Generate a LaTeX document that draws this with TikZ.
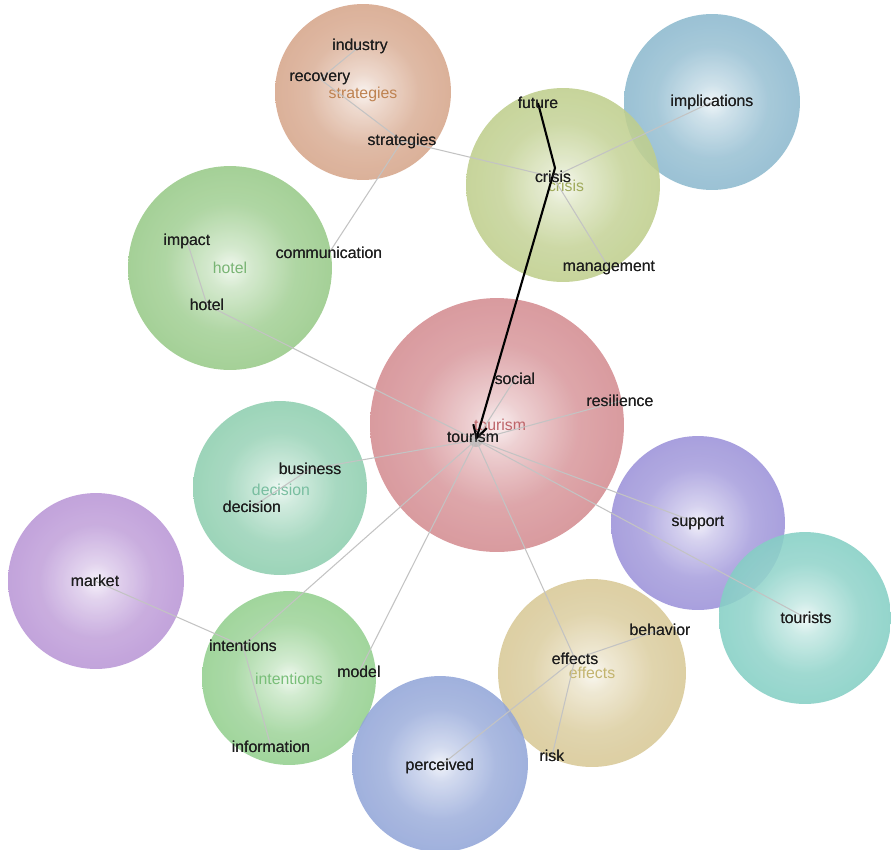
\documentclass[tikz,border=0pt]{standalone}
\usepackage{fontspec}
\setmainfont{Liberation Sans}
\usetikzlibrary{arrows.meta}
\pgfdeclareradialshading[bubblecolor]{bubble}{\pgfpoint{0bp}{0bp}}{color(0bp)=(bubblecolor!15!white); color(5bp)=(bubblecolor!45!white); color(16bp)=(bubblecolor!85!white); color(28bp)=(bubblecolor); color(50bp)=(bubblecolor)}
\definecolor{cStrat}{RGB}{212,162,134}
\definecolor{cCrisis}{RGB}{188,204,136}
\definecolor{cImpl}{RGB}{136,182,204}
\definecolor{cHotel}{RGB}{148,200,132}
\definecolor{cTour}{RGB}{210,136,141}
\definecolor{cDec}{RGB}{138,204,172}
\definecolor{cMarket}{RGB}{183,146,212}
\definecolor{cInt}{RGB}{143,205,138}
\definecolor{cSupp}{RGB}{152,142,215}
\definecolor{cTourists}{RGB}{128,205,194}
\definecolor{cEff}{RGB}{214,198,146}
\definecolor{cPerc}{RGB}{142,162,214}
\definecolor{lStrat}{RGB}{190,130,80}
\definecolor{lCrisis}{RGB}{160,170,90}
\definecolor{lHotel}{RGB}{120,180,115}
\definecolor{lTour}{RGB}{190,100,105}
\definecolor{lDec}{RGB}{120,190,160}
\definecolor{lInt}{RGB}{120,190,120}
\definecolor{lEff}{RGB}{195,180,110}
\definecolor{wordink}{RGB}{30,30,30}
\definecolor{edgegray}{RGB}{195,195,195}
\tikzset{
  bub/.style={circle, inner sep=0pt, minimum size=#1*0.04cm, fill opacity=0.88,
    /utils/exec={\colorlet{bubblecolor}{bcol}}, shading=bubble},
  word/.style={inner sep=1pt, text=wordink, font=\fontsize{9}{10}\selectfont},
  clab/.style={inner sep=1pt, text=#1, font=\fontsize{9}{10}\selectfont},
  link/.style={draw=edgegray, line width=0.6pt},
}
\newcommand{\bubble}[5]{\colorlet{bcol}{#4}\node[bub=#5] (#1) at (#2,#3) {};}
\begin{document}
\begin{tikzpicture}[x=0.02cm, y=-0.02cm]
\useasboundingbox (0,0) rectangle (891,849);
% bubbles
\bubble{b-strat}{363}{92}{cStrat}{88}
\bubble{b-impl}{712}{102}{cImpl}{88}
\bubble{b-crisis}{563}{185}{cCrisis}{97}
\bubble{b-hotel}{230}{268}{cHotel}{102}
\bubble{b-tour}{497}{425}{cTour}{127}
\bubble{b-dec}{280}{488}{cDec}{87}
\bubble{b-market}{96}{581}{cMarket}{88}
\bubble{b-int}{289}{678}{cInt}{87}
\bubble{b-supp}{698}{523}{cSupp}{87}
\bubble{b-tourists}{805}{618}{cTourists}{86}
\bubble{b-eff}{592}{673}{cEff}{94}
\bubble{b-perc}{440}{764}{cPerc}{88}
% words
\node[word] (industry) at (360,46) {industry};
\node[word] (recovery) at (320,79) {recovery};
\node[clab=lStrat] (l-strat) at (363,94) {strategies};
\node[word] (strategies) at (402,141) {strategies};
\node[word] (future) at (538,103) {future};
\node[clab=lCrisis] (l-crisis) at (566,186) {crisis};
\node[word] (crisis) at (553,177) {crisis};
\node[word] (management) at (609,268) {management};
\node[word] (implications) at (712,102) {implications};
\node[word] (impact) at (187,241) {impact};
\node[clab=lHotel] (l-hotel) at (230,268) {hotel};
\node[word] (hotel) at (207,305) {hotel};
\node[word] (communication) at (329,253) {communication};
\node[word] (social) at (515,379) {social};
\node[word] (resilience) at (620,401) {resilience};
\node[clab=lTour] (l-tour) at (500,425) {tourism};
\coordinate (hub) at (476,440);
\fill[gray!60, opacity=0.7] (hub) circle (7);
\node[word] (tourism) at (473,437) {tourism};
\node[word] (business) at (310,469) {business};
\node[clab=lDec] (l-dec) at (281,490) {decision};
\node[word] (decision) at (252,507) {decision};
\node[word] (market) at (95,581) {market};
\node[word] (intentions) at (243,646) {intentions};
\node[clab=lInt] (l-int) at (289,679) {intentions};
\node[word] (model) at (359,672) {model};
\node[word] (information) at (271,747) {information};
\node[word] (support) at (698,523) {support};
\node[word] (tourists) at (806,618) {tourists};
\node[word] (behavior) at (660,630) {behavior};
\node[clab=lEff] (l-eff) at (592,673) {effects};
\node[word] (effects) at (575,659) {effects};
\node[word] (risk) at (552,756) {risk};
\node[word] (perceived) at (440,766) {perceived};
% links
\path[link] (industry.center) -- (recovery.center);
\path[link] (recovery.center) -- (strategies.center);
\path[link] (strategies.center) -- (crisis.center);
\path[link] (communication.center) -- (strategies.center);
\path[link] (crisis.center) -- (implications.center);
\path[link] (crisis.center) -- (management.center);
\path[link] (impact.center) -- (hotel.center);
\path[link] (hotel.center) -- (hub);
\path[link] (hub) -- (social.center);
\path[link] (hub) -- (resilience.center);
\path[link] (hub) -- (business.center);
\path[link] (business.center) -- (decision.center);
\path[link] (hub) -- (intentions.center);
\path[link] (hub) -- (model.center);
\path[link] (hub) -- (support.center);
\path[link] (hub) -- (tourists.center);
\path[link] (hub) -- (effects.center);
\path[link] (market.center) -- (intentions.center);
\path[link] (intentions.center) -- (information.center);
\path[link] (effects.center) -- (behavior.center);
\path[link] (effects.center) -- (risk.center);
\path[link] (effects.center) -- (perceived.center);
% arrow
\coordinate (bend) at (555,168);
\draw[black, line width=1.2pt, -{Straight Barb[length=7pt, width=8pt]}] (future.center) -- (bend) -- (hub);
% redraw words on top of links
\foreach \n/\t in {industry/industry, recovery/recovery, strategies/strategies, future/future, crisis/crisis, management/management, implications/implications, impact/impact, hotel/hotel, communication/communication, social/social, resilience/resilience, tourism/tourism, business/business, decision/decision, market/market, intentions/intentions, model/model, information/information, support/support, tourists/tourists, behavior/behavior, effects/effects, risk/risk, perceived/perceived}
  \node[word] at (\n.center) {\t};
\end{tikzpicture}
\end{document}
